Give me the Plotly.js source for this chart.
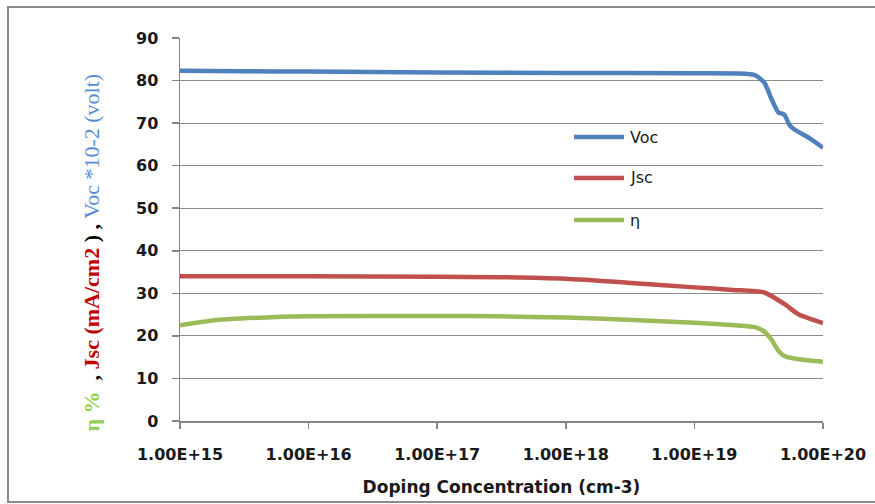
<!DOCTYPE html>
<html>
<head>
<meta charset="utf-8">
<script src="https://cdn.plot.ly/plotly-3.0.1.min.js"></script>
<style>html,body{margin:0;padding:0;background:#fff}#chart{width:875px;height:504px}</style>
</head>
<body>
<div id="chart"></div>
<script>
// Doping concentration (cm-3) and values
const vocX = [1e15, 3e15, 1e16, 1e17, 1e18, 1e19, 2.5e19, 3e19, 3.5e19, 4e19, 4.5e19, 5e19, 5.5e19, 6e19, 8e19, 1e20];
const vocY = [82.3, 82.2, 82.1, 81.9, 81.8, 81.7, 81.6, 81.2, 79.5, 75.5, 72.5, 72.0, 69.5, 68.5, 66.3, 64.2];

const jscX = [1e15, 1e16, 1e17, 3e17, 1e18, 3e18, 1e19, 2e19, 3.5e19, 5e19, 6.5e19, 1e20];
const jscY = [34.0, 34.0, 33.9, 33.8, 33.4, 32.5, 31.4, 30.8, 30.2, 27.5, 25.0, 23.0];

const etaX = [1e15, 1.5e15, 2e15, 3e15, 1e16, 1e17, 3e17, 1e18, 3e18, 1e19, 2.5e19, 3e19, 3.5e19, 4e19, 4.5e19, 5e19, 6e19, 8e19, 1e20];
const etaY = [22.5, 23.3, 23.8, 24.1, 24.6, 24.7, 24.6, 24.3, 23.8, 23.1, 22.3, 22.0, 21.0, 19.0, 16.5, 15.3, 14.7, 14.2, 13.9];

const xTickVals = [1e15, 1e16, 1e17, 1e18, 1e19, 1e20];
const xTickText = ['1.00E+15', '1.00E+16', '1.00E+17', '1.00E+18', '1.00E+19', '1.00E+20'];
const seriesNames = ['Voc', 'Jsc', 'η'];

const colors = ['#4F81BD', '#C0504D', '#9BBB59'];
const xs = [vocX, jscX, etaX];
const ys = [vocY, jscY, etaY];

const traces = seriesNames.map((n, i) => ({
  x: xs[i], y: ys[i], name: n, type: 'scatter', mode: 'lines',
  line: {color: colors[i], width: 4.5, shape: 'spline', smoothing: 0.6},
  showlegend: false
}));

const tickFont = {family: 'DejaVu Sans', size: 16, color: '#1a1a1a', weight: 'bold'};

// legend drawn in the plot area (positions in paper units)
const legY = [0.7415, 0.6345, 0.5248];
const legendShapes = seriesNames.map((n, i) => ({
  type: 'line', xref: 'paper', yref: 'paper',
  x0: 0.6128, x1: 0.6905, y0: legY[i], y1: legY[i],
  line: {color: colors[i], width: 4.5}
}));
const legendText = seriesNames.map((n, i) => ({
  xref: 'paper', yref: 'paper', x: 0.6967, y: legY[i],
  xanchor: 'left', yanchor: 'middle', showarrow: false,
  text: n, font: {family: 'DejaVu Sans', size: 16, color: '#1a1a1a'}
}));

const layout = {
  width: 875, height: 504,
  margin: {l: 180, r: 52, t: 38, b: 83},
  paper_bgcolor: '#ffffff', plot_bgcolor: '#ffffff',
  showlegend: false,
  xaxis: {
    type: 'log', range: [15, 20],
    tickvals: xTickVals, ticktext: xTickText,
    tickfont: tickFont,
    showgrid: false, zeroline: false,
    showline: true, linecolor: '#868686', linewidth: 1.5,
    ticks: 'outside', ticklen: 6, tickcolor: '#868686', tickwidth: 1.5,
    ticklabelstandoff: 12,
    title: {text: 'Doping Concentration (cm-3)', font: {family: 'DejaVu Sans', size: 17, color: '#1a1a1a', weight: 'bold'}, standoff: 18}
  },
  yaxis: {
    range: [0, 90], dtick: 10, tick0: 0,
    tickfont: tickFont,
    showgrid: true, gridcolor: '#8c8c8c', gridwidth: 1.2,
    zeroline: false,
    showline: true, linecolor: '#868686', linewidth: 1.5,
    ticks: 'outside', ticklen: 7, tickcolor: '#868686', tickwidth: 1.5,
    ticklabelstandoff: 10
  },
  annotations: [{
    xref: 'paper', yref: 'paper', x: -0.137, y: 0.44,
    xanchor: 'center', yanchor: 'middle', textangle: -90, showarrow: false,
    font: {family: 'Liberation Serif', size: 22, color: '#000'},
    text: '<span style="color:#92D050"><b>η %</b></span>  <b>,</b> <span style="color:#C00000"><b>Jsc (mA/cm2 </b></span><b>) ,</b> <span style="color:#558ED5">Voc *10-2 (volt)</span>'
  }].concat(legendText),
  shapes: [{
    type: 'rect', xref: 'paper', yref: 'paper',
    x0: -0.2675, x1: 1.2, y0: -0.2115, y1: 1.081,
    line: {color: '#8a8a8a', width: 2}, fillcolor: 'rgba(0,0,0,0)', layer: 'below'
  }].concat(legendShapes)
};

Plotly.newPlot('chart', traces, layout, {displayModeBar: false, staticPlot: true});
</script>
</body>
</html>
